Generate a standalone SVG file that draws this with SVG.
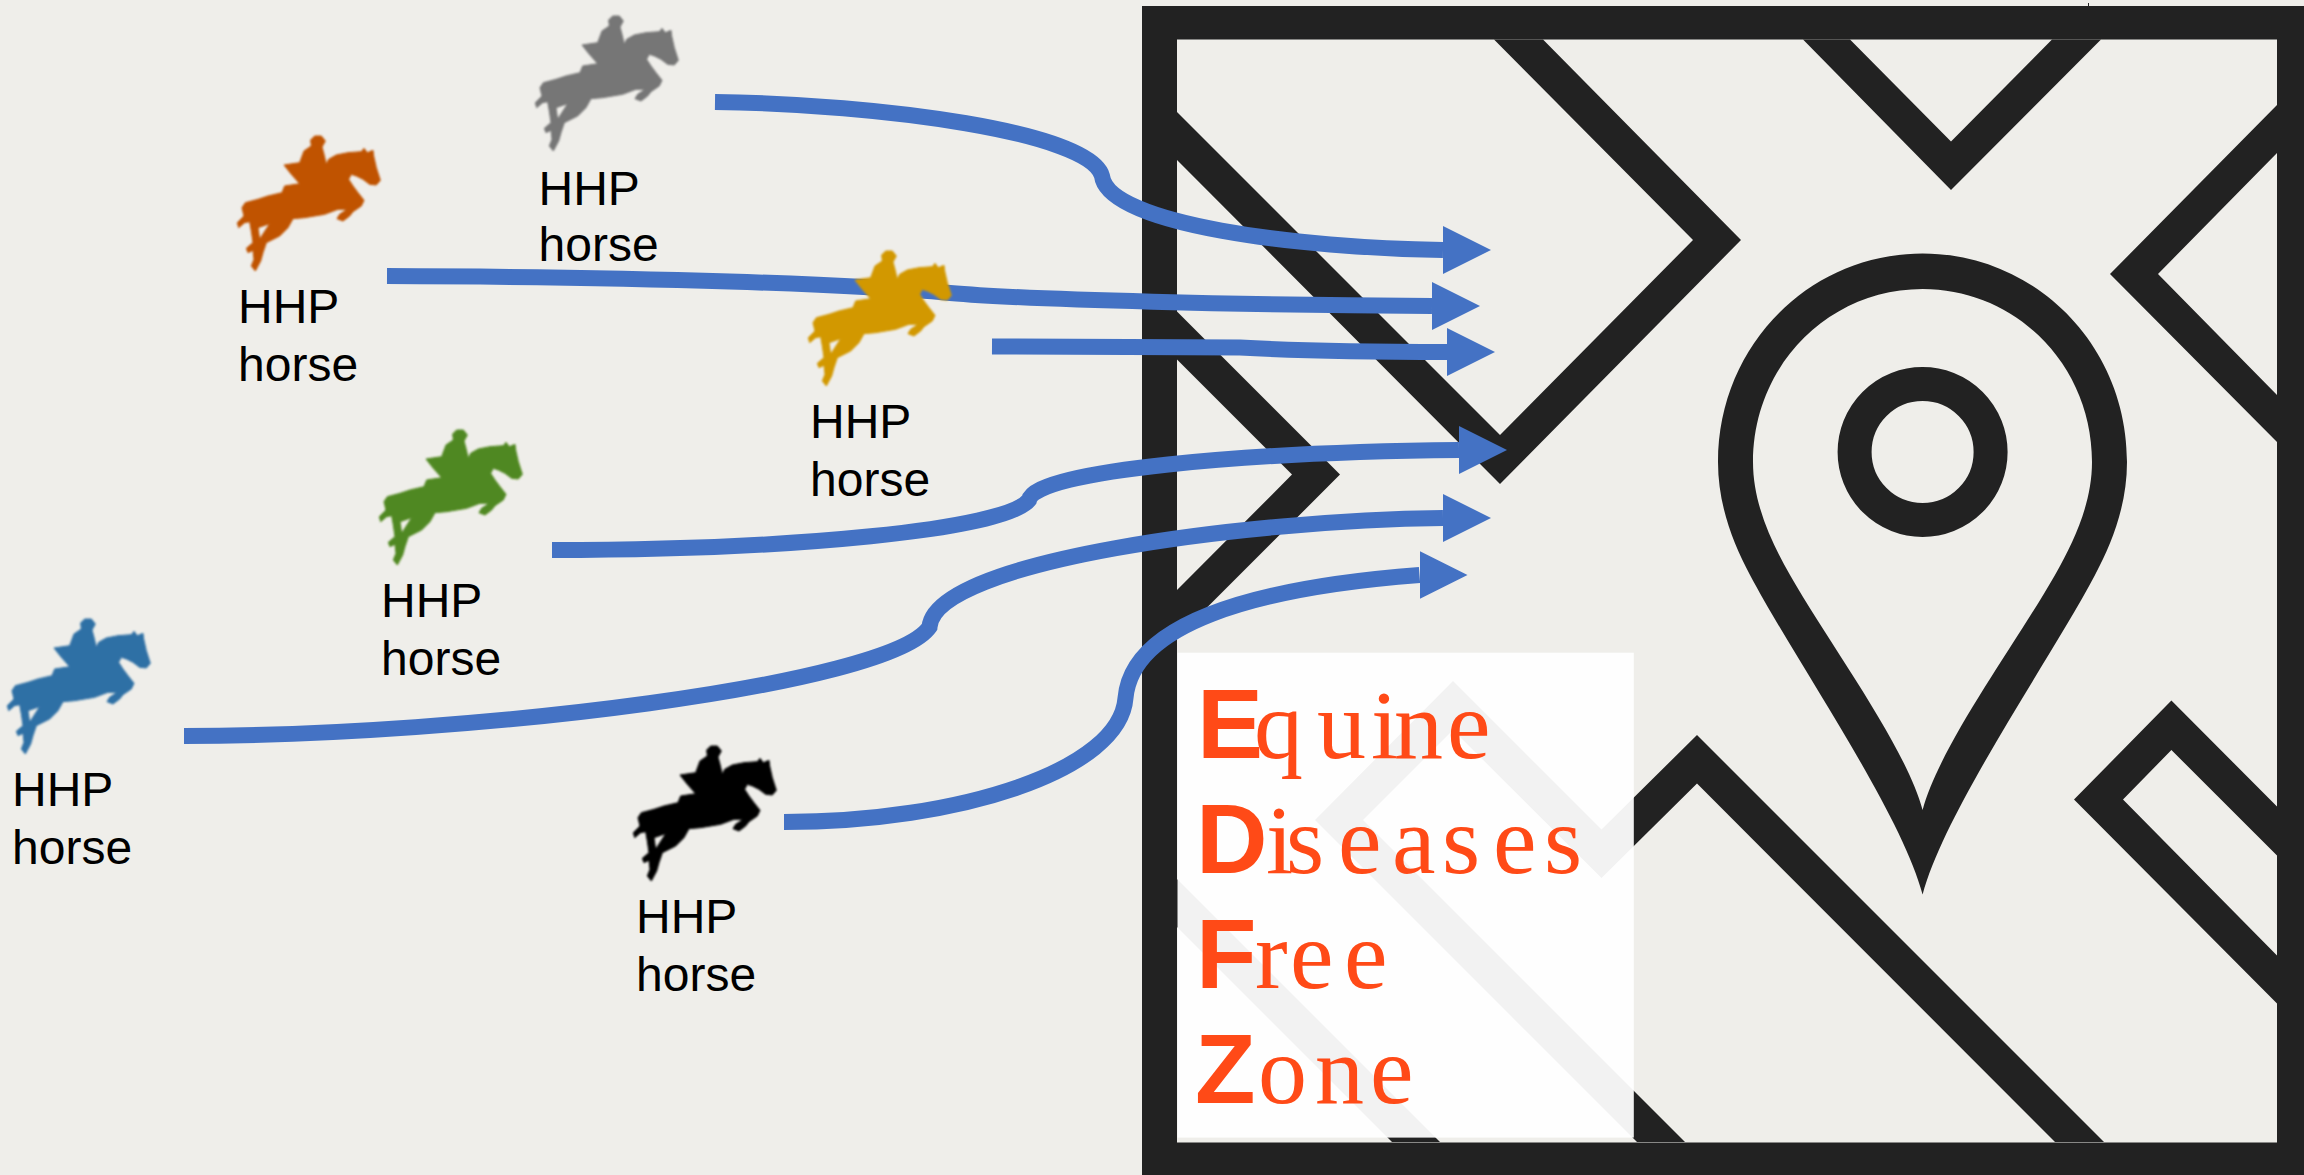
<svg xmlns="http://www.w3.org/2000/svg" width="2304" height="1175" viewBox="0 0 2304 1175">
<style>
.map{fill:#222222}
.lbl{font-family:"Liberation Sans",Arial,sans-serif;font-size:48px;fill:#000}
.cap{font-family:"Liberation Sans",Arial,sans-serif;font-weight:bold;font-size:99px;fill:#FF4A17}
.low{font-family:"Liberation Serif","Times New Roman",serif;font-size:98px;fill:#FF4A17}
.arrow{fill:none;stroke:#4472C4;stroke-width:16;marker-end:url(#head)}
.rider{filter:url(#soft);stroke-width:3;stroke-linejoin:round}
</style>
<defs>
<filter id="soft" x="-5%" y="-5%" width="110%" height="110%"><feGaussianBlur stdDeviation="0.9"/></filter>
<marker id="head" markerUnits="userSpaceOnUse" markerWidth="50" markerHeight="50" refX="0" refY="24" orient="0" viewBox="0 0 50 48"><path d="M0,0L48,24L0,48Z" fill="#4472C4"/></marker>
<path id="horse" transform="translate(520,0) scale(.3333)" fill-rule="evenodd" d="M266,60L278,48L298,48L310,63L300,81L306,103L313,133L320,118L343,105L378,98L418,95L426,85L436,98L453,91L455,108L463,143L475,181L463,195L443,193L423,178L403,168L388,163L380,178L393,198L408,218L426,241L418,258L393,275L383,288L363,303L345,296L353,283L376,268L348,268L308,283L248,293L213,296L198,323L173,348L133,368L123,398L116,423L100,453L88,438L96,418L93,391L78,398L73,385L93,368L88,333L83,305L68,308L50,323L46,308L66,288L60,263L70,248L108,238L138,228L180,218L188,198L233,191L208,163L186,135L233,128L246,93L268,78Z M108,323L143,311L113,358Z"/>
</defs>
<rect width="2304" height="1175" fill="#EFEEEA"/>
<g id="map">
<path class="map" fill-rule="evenodd" d="M1142,6H2304V1175H1142Z M1177,39.5V1142.5H2277V39.5Z"/>
<rect class="map" x="2088" y="3" width="1" height="3"/>
<polygon class="map" points="1494,39.5 1543,39.5 1741,240 1500,484 1177,160 1177,112 1500,435 1693,240"/>
<polygon class="map" points="1803,39.5 1850,39.5 1951,141.6 2052,39.5 2101,39.5 1951,190"/>
<polygon class="map" points="2277,105 2110,274 2277,442 2277,395 2158,274 2277,153"/>
<polygon class="map" points="1177,311.6 1340,474.6 1177,637.6 1177,590 1292,474.6 1177,359.6"/>
<polygon class="map" points="2277,806.5 2171.4,700.5 2074,799.6 2277,1003.5 2277,955.5 2123,799.6 2171.4,750 2277,855.5"/>
<polygon class="map" points="1637,1142 1315,820 1453,681 1601.5,829.5 1697,735 2104,1142 2055,1142 1697,783.6 1601.5,878 1453,730 1363,820 1685,1142"/>
<polygon class="map" points="1177,879 1440,1142 1392,1142 1177,927"/>
<path class="map" fill-rule="evenodd" d="M1922.6,253.5C2035,253.5 2127,345 2127,462C2127,505 2112,543 2095,575C2050,660 1945,810 1922.6,894.6C1900,810 1795,660 1750,575C1733,543 1718,505 1718,462C1718,345 1810,253.5 1922.6,253.5Z M1922.6,289C1829,289 1753,365 1753,462C1753,502 1770,540 1790,575C1830,645 1905,745 1922.6,810C1940,745 2015,645 2055,575C2075,540 2092,502 2092,462C2092,365 2016,289 1922.6,289Z"/>
<circle cx="1922.6" cy="452" r="68" fill="none" stroke="#222222" stroke-width="34"/>
</g>
<g id="zone-label">
<rect x="1177.5" y="652.7" width="456.3" height="484.9" fill="#FFFFFF" fill-opacity=".94"/>
<text y="758"><tspan class="cap" x="1197">E</tspan><tspan class="low" x="1254 1317 1371 1394 1447">quine</tspan></text>
<text y="872.7"><tspan class="cap" x="1196">D</tspan><tspan class="low" x="1266 1286 1338 1392 1442 1493 1544">iseases</tspan></text>
<text y="988.3"><tspan class="cap" x="1196">F</tspan><tspan class="low" x="1255 1290 1344">ree</tspan></text>
<text y="1103"><tspan class="cap" x="1195">Z</tspan><tspan class="low" x="1258 1315 1370">one</tspan></text>
</g>
<g id="connectors">
<path class="arrow" d="M715,102C880,104 1090,132 1102,176C1108,225 1300,248 1443,250"/>
<path class="arrow" d="M387,276C650,277 850,284 950,293C1030,300 1250,305 1432,306"/>
<path class="arrow" d="M992,346.5L1240,347.5C1300,351 1380,352 1447,352"/>
<path class="arrow" d="M552,550C790,550 1005,530 1029,500C1036,470 1250,452 1459,450"/>
<path class="arrow" d="M184,736C470,736 890,685 929.5,627C935,560 1250,520 1443,518"/>
<path class="arrow" d="M784,822C960,822 1120,770 1125.5,698C1132,625 1250,588 1419.5,575"/>
</g>
<g id="horse-gray"><use class="rider" href="#horse" fill="#767676" stroke="#767676"/><text class="lbl" x="538.5" y="204.7">HHP</text><text class="lbl" x="538.5" y="261">horse</text></g>
<g id="horse-orange"><use class="rider" href="#horse" x="-298" y="120" fill="#C05305" stroke="#C05305"/><text class="lbl" x="238" y="323.4">HHP</text><text class="lbl" x="238" y="381">horse</text></g>
<g id="horse-gold"><use class="rider" href="#horse" x="273" y="235" fill="#D29800" stroke="#D29800"/><text class="lbl" x="810" y="438">HHP</text><text class="lbl" x="810" y="495.6">horse</text></g>
<g id="horse-green"><use class="rider" href="#horse" x="-156" y="414" fill="#4F8820" stroke="#4F8820"/><text class="lbl" x="381" y="617">HHP</text><text class="lbl" x="381" y="674.5">horse</text></g>
<g id="horse-blue"><use class="rider" href="#horse" x="-528" y="603" fill="#2F70A5" stroke="#2F70A5"/><text class="lbl" x="12" y="806">HHP</text><text class="lbl" x="12" y="864">horse</text></g>
<g id="horse-black"><use class="rider" href="#horse" x="98" y="730" fill="#000000" stroke="#000000"/><text class="lbl" x="636" y="933">HHP</text><text class="lbl" x="636" y="991">horse</text></g>
</svg>
